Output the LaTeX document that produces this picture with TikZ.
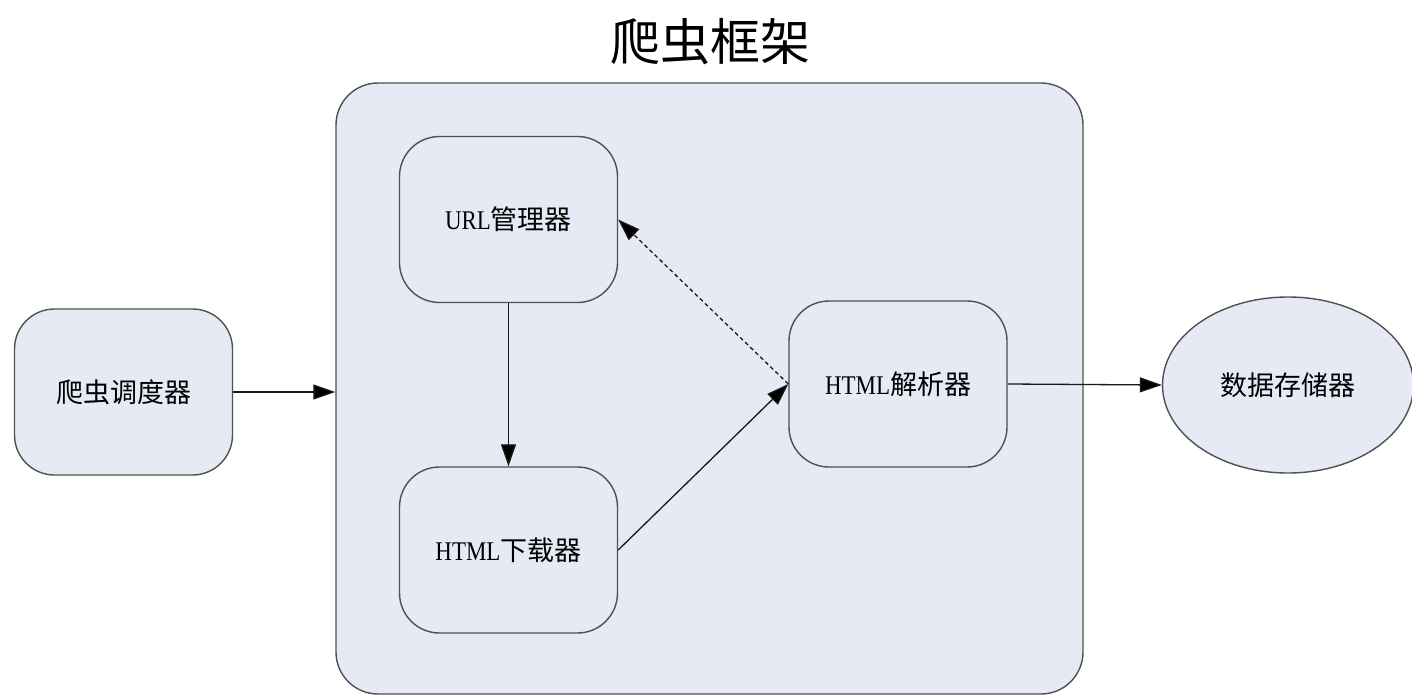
\documentclass[tikz,border=0pt]{standalone}
\usepackage{fontspec}
\setmainfont{Liberation Serif}
\newfontfamily\cjk{Noto Sans CJK SC}
\newfontfamily\lat[FakeStretch=0.85]{Liberation Serif}
\usetikzlibrary{shapes.geometric,arrows.meta}
\definecolor{boxfill}{RGB}{230,234,245}
\definecolor{boxline}{RGB}{80,80,80}
\begin{document}
\begin{tikzpicture}[x=1pt,y=-1pt,
  frm/.style={draw=boxline,fill=boxfill,line width=1.4pt,rounded corners=42pt,
    minimum width=747pt,minimum height=611pt,inner sep=0pt},
  box/.style={draw=boxline,fill=boxfill,line width=1.4pt,rounded corners=40pt,
    minimum width=218pt,minimum height=166pt,inner sep=0pt,font=\fontsize{27}{30}\selectfont},
  store/.style={ellipse,draw=boxline,fill=boxfill,line width=1.4pt,
    minimum width=251pt,minimum height=176pt,inner sep=0pt,font=\fontsize{27}{30}\selectfont},
  conn/.style={draw=black!90,line width=1.3pt,-{Triangle[length=22pt,width=15pt,fill=black]}},
  dconn/.style={conn,dash pattern=on 4pt off 3pt}
]
\useasboundingbox (0,0) rectangle (1412,695);
\node[font=\fontsize{50}{55}\selectfont\cjk,inner sep=0pt] (title) at (710,42) {爬虫框架};
\node[frm] (frame) at (709.5,388.5) {};
\node[box] (sched) at (123.5,392) {\cjk 爬虫调度器};
\node[box] (url) at (508.5,219.5) {\lat URL\cjk 管理器};
\node[box] (dl) at (508.5,550) {\lat HTML\cjk 下载器};
\node[box] (parser) at (898,384) {\lat HTML\cjk 解析器};
\node[store] (st) at (1288,385) {\cjk 数据存储器};
\draw[conn] (sched.east) -- (sched.east -| frame.west);
\draw[conn] (url.south) -- (dl.north);
\draw[conn] (dl.east) -- (parser.west);
\draw[dconn] (parser.west) -- (url.east);
\draw[conn] (parser.east) -- (st.west);
\end{tikzpicture}
\end{document}
